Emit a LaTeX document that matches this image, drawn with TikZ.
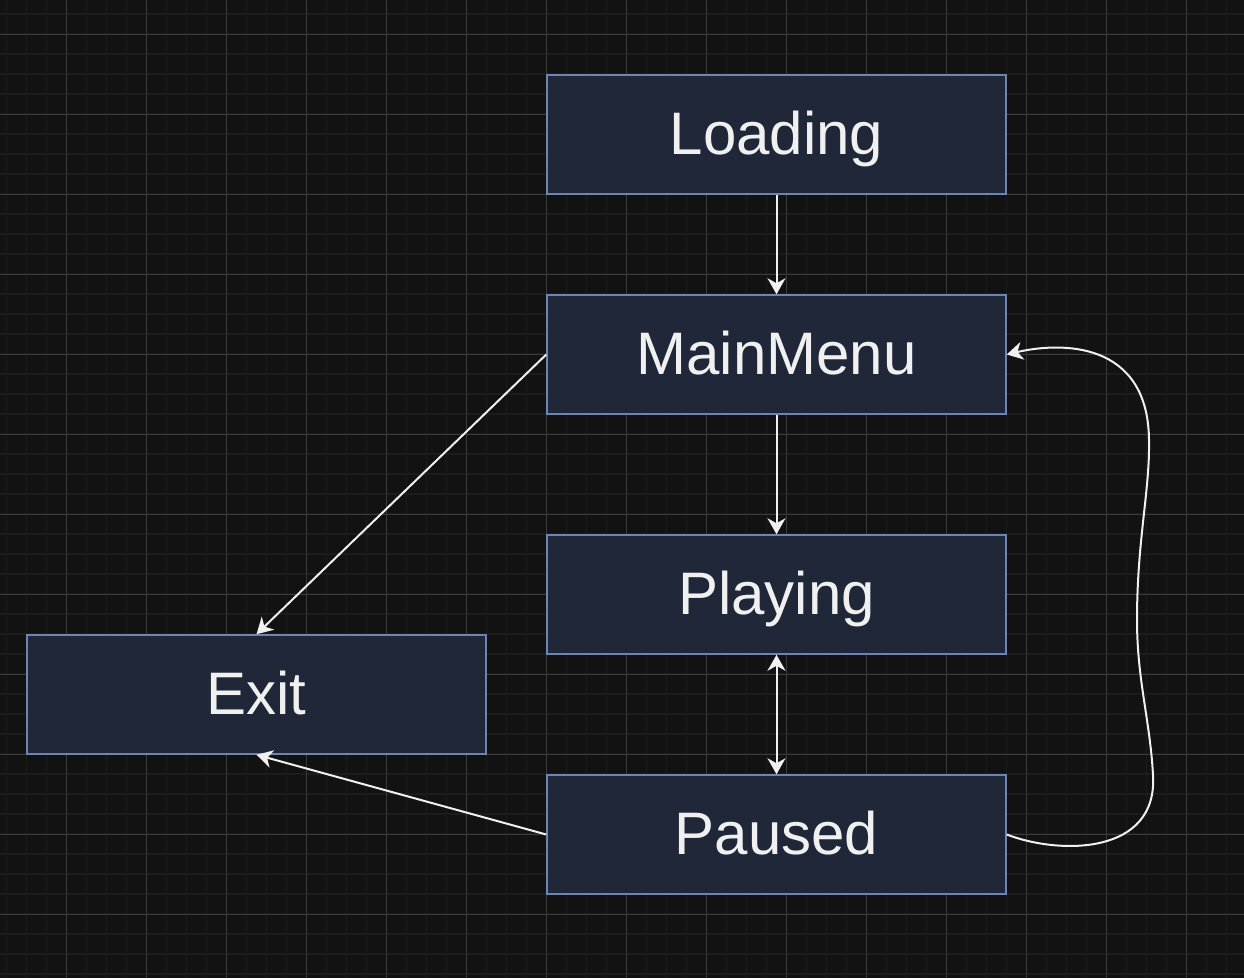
\documentclass[tikz,border=0pt]{standalone}
\usepackage{fontspec}
\setmainfont{Liberation Sans}
\usetikzlibrary{arrows.meta}
\definecolor{bgdark}{HTML}{121212}
\definecolor{gridminor}{HTML}{1C1C1C}
\definecolor{gridmajor}{HTML}{3A3A3A}
\definecolor{boxfill}{HTML}{1F2739}
\definecolor{boxline}{HTML}{6C86B3}
\definecolor{linkwhite}{HTML}{F0F0F0}

\begin{document}
\begin{tikzpicture}[x=1pt,y=-1pt,
  >={Stealth[length=16pt,width=18pt,inset=5pt]},
  state/.style={draw=boxline,fill=boxfill,line width=1.5pt,minimum width=459pt,minimum height=119pt,inner sep=0pt,text=linkwhite,font=\fontsize{60}{62}\selectfont,text height=43pt,text depth=4pt},
  link/.style={draw=linkwhite,line width=2pt,->}]
\useasboundingbox (0,0) rectangle (1244,978);
\fill[bgdark] (0,0) rectangle (1244,978);
% grid
\foreach \x in {6.5,26.5,...,1244} {
\draw[gridminor,line width=1.5pt] (\x,0) -- (\x,978);
}
\foreach \y in {14,34,...,978} {
\draw[gridminor,line width=1.5pt] (0,\y) -- (1244,\y);
}
\foreach \x in {66.5,146.5,...,1244} {
\draw[gridmajor,line width=1pt] (\x,0) -- (\x,978);
}
\foreach \y in {34,114,...,978} {
\draw[gridmajor,line width=1pt] (0,\y) -- (1244,\y);
}
% states
\node[state] (loading) at (776.5,134.5) {Loading};
\node[state] (mainmenu) at (776.5,354.5) {MainMenu};
\node[state] (playing) at (776.5,594.5) {Playing};
\node[state] (paused) at (776.5,834.5) {Paused};
\node[state] (exit) at (256.5,694.5) {Exit};
% transitions
\draw[link] (loading) -- (mainmenu);
\draw[link] (mainmenu) -- (playing);
\draw[link,<->] (playing) -- (paused);
\draw[link] (mainmenu.west) -- (exit.north);
\draw[link] (paused.west) -- (exit.south);
\draw[link] (paused.east) .. controls (1060,855) and (1158,855) .. (1153,775)
  .. controls (1150,720) and (1137,680) .. (1137,620)
  .. controls (1137,540) and (1150,490) .. (1149,440)
  .. controls (1148,340) and (1060,342) .. (mainmenu.east);
\end{tikzpicture}
\end{document}
